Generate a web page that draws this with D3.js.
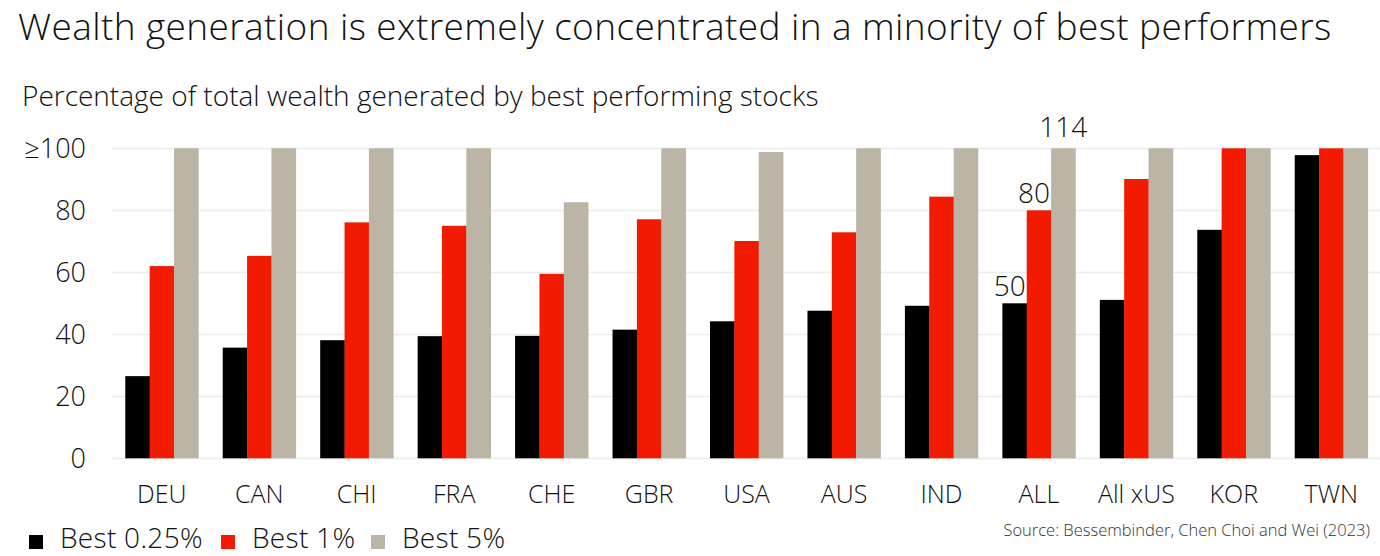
<!DOCTYPE html>
<html>
<head>
<meta charset="utf-8">
<script src="https://cdn.jsdelivr.net/npm/d3@7"></script>
<style>
  body { margin: 0; background: #fff; }
  svg text { font-family: "Open Sans", "Noto Sans", sans-serif; font-weight: 300; fill: #111; }
</style>
</head>
<body>
<svg id="chart"></svg>
<script>
// data
var countries = ["DEU", "CAN", "CHI", "FRA", "CHE", "GBR", "USA", "AUS", "IND", "ALL", "All xUS", "KOR", "TWN"];
var best025 = [26.5, 35.7, 38.1, 39.4, 39.5, 41.5, 44.2, 47.6, 49.2, 50, 51.1, 73.7, 97.8];
var best1 = [62, 65.3, 76.1, 75.0, 59.5, 77.1, 70.1, 72.9, 84.4, 80, 90.1, 100, 100];
var best5 = [100, 100, 100, 100, 82.6, 100, 98.8, 100, 100, 114, 100, 100, 100];
var seriesNames = ["Best 0.25%", "Best 1%", "Best 5%"];
var seriesColors = ["#000000", "#f21b00", "#bcb5a6"];
var yTicks = [0, 20, 40, 60, 80, 100];
var yTickLabels = ["0", "20", "40", "60", "80", "\u2265100"];
// labels shown on the ALL group
var labelled = "ALL";

var width = 1380,
    height = 556;

var svg = d3.select("#chart")
  .attr("width", width)
  .attr("height", height);

var series = [best025, best1, best5];

var x = d3.scaleBand()
  .domain(countries)
  .range([113.1, 1380])
  .paddingInner(0.25)
  .paddingOuter(0.125);

var xSub = d3.scaleBand()
  .domain(d3.range(series.length))
  .range([0, x.bandwidth()]);

var y = d3.scaleLinear()
  .domain([0, 100])
  .range([458.3, 148.3])
  .clamp(true);

// title + subtitle
svg.append("text")
  .attr("x", 18)
  .attr("y", 40)
  .style("font-size", "37px")
  .style("letter-spacing", "0.4px")
  .text("Wealth generation is extremely concentrated in a minority of best performers");

svg.append("text")
  .attr("x", 22)
  .attr("y", 106)
  .style("font-size", "28px")
  .text("Percentage of total wealth generated by best performing stocks");

// gridlines
svg.append("g")
  .attr("class", "grid")
  .selectAll("line")
  .data(yTicks)
  .join("line")
  .attr("x1", 112)
  .attr("x2", 1380)
  .attr("y1", function (d) { return Math.round(y(d)) + 0.5; })
  .attr("y2", function (d) { return Math.round(y(d)) + 0.5; })
  .style("stroke", "#ececec")
  .style("stroke-width", 1.5);

// y axis labels
var yAxis = d3.axisLeft(y)
  .tickValues(yTicks)
  .tickFormat(function (d, i) { return yTickLabels[i]; })
  .tickSize(0)
  .tickPadding(0);

var yG = svg.append("g")
  .attr("transform", "translate(86,0)")
  .call(yAxis);
yG.select(".domain").remove();
yG.selectAll("text")
  .style("font-size", "27px")
  .style("font-family", null)
  .attr("dy", "0.35em");

// bars
var groups = svg.append("g")
  .selectAll("g")
  .data(countries)
  .join("g")
  .attr("transform", function (d) { return "translate(" + x(d) + ",0)"; });

groups.selectAll("rect")
  .data(function (d, i) {
    return series.map(function (s, k) { return { k: k, value: s[i], country: d }; });
  })
  .join("rect")
  .attr("x", function (d) { return xSub(d.k); })
  .attr("width", xSub.bandwidth() + 0.3)
  .attr("y", function (d) { return y(d.value); })
  .attr("height", function (d) { return y(0) - y(d.value); })
  .style("fill", function (d) { return seriesColors[d.k]; });

// value labels on ALL
var allIdx = countries.indexOf(labelled);
var allLabels = series.map(function (s, k) { return { k: k, value: s[allIdx] }; });

svg.append("g")
  .selectAll("text")
  .data(allLabels)
  .join("text")
  .attr("x", function (d) {
    var left = x(labelled) + xSub(d.k);
    return d.k === 2 ? left + xSub.bandwidth() / 2 : left + xSub.bandwidth() - 1;
  })
  .attr("y", function (d) { return y(d.value) - (d.value > 100 ? 11 : 7.5); })
  .attr("text-anchor", function (d) { return d.k === 2 ? "middle" : "end"; })
  .style("font-size", "28px")
  .text(function (d) { return d3.format("d")(d.value); });

// x axis labels
var xAxis = d3.axisBottom(x)
  .tickSize(0)
  .tickPadding(0);

var xG = svg.append("g")
  .attr("transform", "translate(0,503)")
  .call(xAxis);
xG.select(".domain").remove();
xG.selectAll("text")
  .style("font-size", "25px")
  .style("font-family", null)
  .attr("dy", 0)
  .attr("y", 0);

// legend
var legendX = [29, 221, 371];
var legend = svg.append("g")
  .selectAll("g")
  .data(seriesNames)
  .join("g")
  .attr("transform", function (d, i) { return "translate(" + legendX[i] + ",0)"; });

legend.append("rect")
  .attr("x", 0)
  .attr("y", 535)
  .attr("width", 14)
  .attr("height", 14)
  .style("fill", function (d, i) { return seriesColors[i]; });

legend.append("text")
  .attr("x", 31)
  .attr("y", 548)
  .style("font-size", "28px")
  .style("letter-spacing", "0.3px")
  .text(function (d) { return d; });

// source
svg.append("text")
  .attr("x", 1370)
  .attr("y", 536)
  .attr("text-anchor", "end")
  .style("font-size", "16.5px")
  .style("fill", "#333")
  .text("Source: Bessembinder, Chen Choi and Wei (2023)");
</script>
</body>
</html>
